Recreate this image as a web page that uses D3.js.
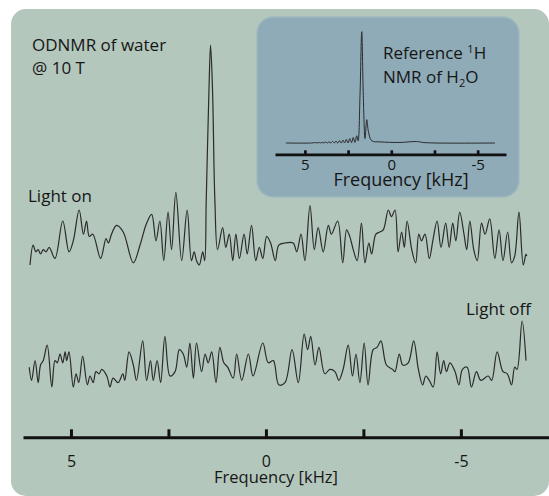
<!DOCTYPE html>
<html lang="en">
<head>
<meta charset="utf-8">
<script src="https://d3js.org/d3.v7.min.js"></script>
<style>
    body { margin: 0; background: #fff; }
    svg { display: block; font-family: 'Open Sans', sans-serif; }
    .trace { fill: none; stroke: #2b2b2b; stroke-width: 1.2px; stroke-linejoin: round; }
    .label { fill: #161616; }
    .axis path, .axis line { stroke: #111; }
    .axis text { fill: #161616; font-family: 'Open Sans', sans-serif; }
</style>
</head>
<body>
<script>
    // Light on trace (kHz, a.u.)
    const lightOnFreq = [6.05, 5.97, 5.90, 5.84, 5.78, 5.71, 5.64, 5.56, 5.41, 5.21,
        5.05, 4.94, 4.79, 4.68, 4.60, 4.53, 4.44, 4.24, 4.10, 4.04,
        3.96, 3.83, 3.66, 3.40, 3.23, 3.06, 2.93, 2.82, 2.72, 2.62,
        2.51, 2.42, 2.31, 2.16, 2.02, 1.91, 1.84, 1.78, 1.71, 1.62,
        1.57, 1.53, 1.46, 1.42, 1.37, 1.31, 1.24, 1.11, 1.03, 0.94,
        0.85, 0.77, 0.68, 0.56, 0.48, 0.37, 0.26, 0.17, 0.08, -0.02,
        -0.12, -0.24, -0.33, -0.49, -0.70, -0.79, -0.90, -1.00, -1.13, -1.24,
        -1.34, -1.47, -1.60, -1.68, -1.84, -1.97, -2.07, -2.15, -2.24, -2.34,
        -2.45, -2.54, -2.64, -2.71, -2.82, -2.92, -3.01, -3.14, -3.22, -3.31,
        -3.39, -3.48, -3.55, -3.62, -3.74, -3.84, -3.92, -3.99, -4.08, -4.19,
        -4.29, -4.39, -4.49, -4.61, -4.70, -4.79, -4.87, -4.97, -5.08, -5.15,
        -5.23, -5.33, -5.42, -5.53, -5.62, -5.74, -5.87, -5.98, -6.08, -6.20,
        -6.30, -6.38, -6.49, -6.60, -6.67, -6.69];
    const lightOnSignal = [0, 9, 6, 7, 5, 7, 6, 8, 3, 20,
        6, 11, 25, 14, 20, 13, 14, 3, 12, 10,
        14, 18, 15, 1, 9, 19, 23, 11, 20, 2,
        24, 7, 33, 2, 25, 2, 6, 2, 0, 6,
        2, 30, 80, 100, 80, 30, 7, 17, 8, 14,
        2, 14, 3, 14, 5, 18, 2, 8, 3, 13,
        10, 2, 9, 10, 10, 6, 14, 2, 27, 7,
        17, 6, 18, 14, 20, 1, 16, 13, 7, 2,
        19, 1, 10, 5, 14, 15, 16, 25, 22, 25,
        6, 15, 8, 20, 7, 1, 14, 11, 14, 3,
        12, 20, 8, 19, 8, 19, 11, 24, 14, 7,
        20, 7, 2, 19, 14, 21, 3, 16, 2, 15,
        1, 4, 24, 0, 5, 4];

    // Light off trace
    const lightOffFreq = [6.07, 6.01, 5.92, 5.84, 5.78, 5.71, 5.61, 5.49, 5.41, 5.35,
        5.28, 5.21, 5.15, 5.11, 5.05, 4.94, 4.87, 4.80, 4.70, 4.58,
        4.51, 4.43, 4.36, 4.28, 4.21, 4.08, 4.00, 3.92, 3.79, 3.67,
        3.62, 3.51, 3.40, 3.32, 3.16, 3.06, 2.96, 2.89, 2.79, 2.70,
        2.59, 2.46, 2.33, 2.22, 2.12, 2.03, 1.95, 1.86, 1.78, 1.65,
        1.56, 1.48, 1.39, 1.28, 1.18, 1.08, 0.98, 0.84, 0.75, 0.62,
        0.45, 0.33, 0.08, -0.06, -0.19, -0.33, -0.49, -0.67, -0.83, -0.98,
        -1.07, -1.15, -1.26, -1.36, -1.51, -1.64, -1.77, -1.87, -1.98, -2.11,
        -2.22, -2.31, -2.41, -2.52, -2.62, -2.75, -2.85, -2.95, -3.09, -3.25,
        -3.31, -3.42, -3.51, -3.65, -3.79, -3.91, -4.02, -4.10, -4.19, -4.29,
        -4.39, -4.48, -4.56, -4.63, -4.72, -4.85, -4.95, -5.04, -5.16, -5.27,
        -5.40, -5.51, -5.70, -5.79, -5.93, -6.08, -6.19, -6.30, -6.38, -6.44,
        -6.57, -6.67];
    const lightOffSignal = [9, 3, 12, 2, 10, 12, 19, 0, 12, 11,
        15, 11, 16, 12, 16, 0, 6, 2, 14, 1,
        5, 2, 7, 6, 8, 5, 0, 4, 2, 6,
        3, 16, 10, 3, 21, 3, 12, 3, 12, 2,
        23, 5, 7, 17, 15, 9, 20, 4, 20, 7,
        15, 11, 16, 2, 18, 11, 9, 4, 15, 3,
        15, 5, 20, 11, 12, 1, 2, 17, 2, 24,
        17, 23, 10, 18, 6, 8, 7, 3, 8, 19,
        5, 15, 2, 20, 1, 17, 18, 21, 10, 8,
        7, 15, 10, 11, 21, 8, 1, 5, 3, 0,
        16, 6, 12, 7, 11, 7, 1, 8, 9, 0,
        7, 3, 5, 3, 16, 7, 6, 1, 9, 8,
        30, 12];

    // Reference 1H NMR of H2O (inset), with the ringing on the left of the line
    const refFreq = [6.10, 4.60, 4.40, 4.30, 4.20, 4.10, 4.00, 3.90, 3.80, 3.70,
        3.60, 3.50, 3.40, 3.30, 3.20, 3.10, 3.00, 2.90, 2.80, 2.70,
        2.60, 2.50, 2.40, 2.30, 2.20, 2.10, 2.00, 1.92, 1.81, 1.71,
        1.62, 1.52, 1.42, 1.32, 1.13, 0.65, -0.50, -1.47, -1.95, -6.00];
    const refSignal = [0, 0, 0.4, 0, 0.5, 0, 0.7, 0, 0.9, 0,
        1.1, 0, 1.4, 0, 1.7, 0, 2.1, 0, 2.6, 0,
        3.2, 0, 4, 0.3, 5, 0.5, 6.5, 2, 43, 100,
        43, 4, 21, 10, 2, 1, 0.5, 1.3, 0.3, 0];

    // Axes
    const mainExtent = [6.23, -7.26];
    const insetExtent = [6.73, -6.64];
    const tickValues = [5, 2.5, 0, -2.5, -5];
    const axisTitle = 'Frequency [kHz]';

    const zip = (f, s) => f.map((d, i) => [d, s[i]]);

    const svg = d3.select('body').append('svg')
        .attr('width', 549)
        .attr('height', 496);

    // Panels
    svg.append('rect')
        .attr('x', 11).attr('y', 9)
        .attr('width', 538).attr('height', 487)
        .attr('rx', 15)
        .attr('fill', '#b3c7bc');

    svg.append('rect')
        .attr('x', 257).attr('y', 17)
        .attr('width', 262).attr('height', 180)
        .attr('rx', 16)
        .attr('fill', '#8eabb7')
        .attr('stroke', '#a0b9bf')
        .attr('stroke-width', 1.5);

    // Scales
    const xMain = d3.scaleLinear().domain(mainExtent).range([23, 549]);
    const yOn = d3.scaleLinear().domain([0, 100]).range([265, 45]);
    const yOff = d3.scaleLinear().domain([0, 100]).range([387, 167]);
    const xInset = d3.scaleLinear().domain(insetExtent).range([275, 506]);
    const yInset = d3.scaleLinear().domain([0, 100]).range([143, 31.7]);

    const curve = d3.curveCatmullRom.alpha(0.5);
    const lineOn = d3.line().x(d => xMain(d[0])).y(d => yOn(d[1])).curve(curve);
    const lineOff = d3.line().x(d => xMain(d[0])).y(d => yOff(d[1])).curve(curve);
    const lineRef = d3.line().x(d => xInset(d[0])).y(d => yInset(d[1])).curve(curve);

    svg.append('path').attr('class', 'trace')
        .attr('d', lineOn(zip(lightOnFreq, lightOnSignal)));
    svg.append('path').attr('class', 'trace')
        .attr('d', lineOff(zip(lightOffFreq, lightOffSignal)));
    svg.append('path').attr('class', 'trace')
        .style('stroke-width', '1px')
        .attr('d', lineRef(zip(refFreq, refSignal)));

    const fmt = d => (d % 5 === 0 ? String(d) : '');

    // Main axis
    const gMain = svg.append('g').attr('class', 'axis')
        .attr('transform', 'translate(0,437.3)')
        .call(d3.axisBottom(xMain).tickValues(tickValues).tickSize(-8)
            .tickSizeOuter(0).tickPadding(18).tickFormat(fmt));
    gMain.select('.domain').attr('stroke-width', 3);
    gMain.selectAll('.tick line').attr('stroke-width', 3);
    gMain.selectAll('.tick text').attr('font-size', 16);

    svg.append('text').attr('class', 'label')
        .attr('x', 276).attr('y', 483)
        .attr('text-anchor', 'middle')
        .attr('font-size', 16.5)
        .text(axisTitle);

    // Inset axis
    const gInset = svg.append('g').attr('class', 'axis')
        .attr('transform', 'translate(0,154.3)')
        .call(d3.axisBottom(xInset).tickValues(tickValues).tickSize(-4)
            .tickSizeOuter(0).tickPadding(5).tickFormat(fmt));
    gInset.select('.domain').attr('stroke-width', 2.7);
    gInset.selectAll('.tick line').attr('stroke-width', 2.7);
    gInset.selectAll('.tick text').attr('font-size', 15);

    svg.append('text').attr('class', 'label')
        .attr('x', 401).attr('y', 186)
        .attr('text-anchor', 'middle')
        .attr('font-size', 18)
        .text(axisTitle);

    // Labels
    const big = 17;
    svg.append('text').attr('class', 'label')
        .attr('x', 32).attr('y', 50.7).attr('font-size', big)
        .text('ODNMR of water');
    svg.append('text').attr('class', 'label')
        .attr('x', 32).attr('y', 73.5).attr('font-size', big)
        .text('@ 10 T');
    svg.append('text').attr('class', 'label')
        .attr('x', 28).attr('y', 201.5).attr('font-size', big)
        .text('Light on');
    svg.append('text').attr('class', 'label')
        .attr('x', 466).attr('y', 315).attr('font-size', big)
        .text('Light off');

    const ref1 = svg.append('text').attr('class', 'label')
        .attr('x', 383).attr('y', 59.3).attr('font-size', big);
    ref1.append('tspan').text('Reference ');
    ref1.append('tspan').attr('font-size', 11).attr('dy', -6).text('1');
    ref1.append('tspan').attr('dy', 6).text('H');

    const ref2 = svg.append('text').attr('class', 'label')
        .attr('x', 383).attr('y', 82.7).attr('font-size', big);
    ref2.append('tspan').text('NMR of H');
    ref2.append('tspan').attr('font-size', 11).attr('dy', 4).text('2');
    ref2.append('tspan').attr('dy', -4).text('O');
</script>
</body>
</html>
